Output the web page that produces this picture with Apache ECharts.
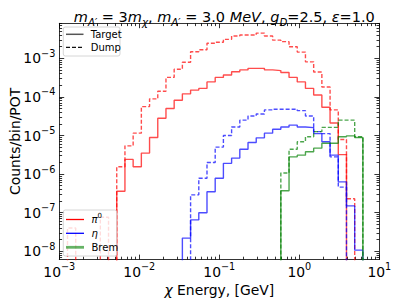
<!DOCTYPE html>
<html><head><meta charset="utf-8">
<script src="https://cdn.jsdelivr.net/npm/echarts@6/dist/echarts.min.js"></script>
<style>html,body{margin:0;padding:0;background:#fff}#c{width:396px;height:303px}</style>
</head><body><div id="c"></div>
<script>
// 39 log-spaced bins between 1e-3 and 10 GeV (edges)
const binEdges = [0.001, 0.0012664, 0.0016037, 0.0020309, 0.0025719, 0.0032570, 0.0041246, 0.0052233, 0.0066147, 0.0083768,
  0.010608, 0.013434, 0.017013, 0.021544, 0.027283, 0.034551, 0.043755, 0.055410, 0.070170, 0.088862,
  0.11253, 0.14251, 0.18047, 0.22855, 0.28943, 0.36653, 0.46416, 0.58780, 0.74437, 0.94267,
  1.1938, 1.5118, 1.9145, 2.4245, 3.0703, 3.8882, 4.9239, 6.2355, 7.8965, 10];

// Counts/bin/POT per bin (0 = empty bin)
const piTarget = [0,0,0,0,0,0,0, 3.6e-7, 2.4e-6, 1.55e-6, 3.5e-6, 8.9e-6, 2.8e-5, 5.0e-5, 8.2e-5, 1.2e-4, 1.5e-4, 1.66e-4, 2.45e-4, 3.2e-4,
  3.7e-4, 4.5e-4, 5.0e-4, 5.5e-4, 5.5e-4, 5.0e-4, 4.8e-4, 4.3e-4, 3.2e-4, 2.45e-4, 1.66e-4, 1.12e-4, 5.4e-5, 2.1e-5, 3.2e-6, 0,0,0,0];
const piDump = [0, 4e-8, 0,0,0, 7.6e-8, 0, 1.55e-6, 5.4e-6, 1.15e-5, 5.6e-5, 8.9e-5, 1.4e-4, 3.2e-4, 5.2e-4, 7.9e-4, 1.48e-3, 1.66e-3, 2.45e-3, 2.6e-3,
  3.1e-3, 3.8e-3, 4.0e-3, 4.0e-3, 4.5e-3, 3.8e-3, 2.95e-3, 2.7e-3, 2.0e-3, 1.45e-3, 8.1e-4, 4.4e-4, 1.8e-4, 4.6e-5, 7.9e-6, 2.3e-7, 0,0,0];
const etaTarget = [0,0,0,0,0,0,0,0,0,0,0,0,0,0,0, 2.2e-8, 6.5e-8, 1.0e-7, 3.5e-7, 7.8e-7,
  1.9e-6, 2.6e-6, 4.4e-6, 6.6e-6, 8.7e-6, 1.15e-5, 1.45e-5, 1.66e-5, 1.86e-5, 1.66e-5, 1.6e-5, 1.12e-5, 6.9e-6, 3.1e-6, 6.3e-7, 1.5e-7, 1.07e-8, 0, 0];
const etaDump = [0,0,0,0,0,0,0,0,0,0,0,0,0,0,0,0, 2.9e-7, 7.8e-7, 2.0e-6, 5.0e-6,
  1.0e-5, 1.66e-5, 2.5e-5, 3.2e-5, 3.6e-5, 4.6e-5, 4.8e-5, 4.8e-5, 4.8e-5, 4.4e-5, 3.2e-5, 1.26e-5, 1.12e-5, 2.8e-6, 4.6e-7, 0,0,0,0];
const bremTarget = [0,0,0,0,0,0,0,0,0,0,0,0,0,0,0,0,0,0,0,0,0,0,0,0,0,0,0,
  3.7e-7, 2.8e-6, 3.1e-6, 3.8e-6, 4.7e-6, 6.3e-6, 6.3e-6, 9.3e-6, 9.8e-6, 8.9e-6, 0, 0];
const bremDump = [0,0,0,0,0,0,0,0,0,0,0,0,0,0,0,0,0,0,0,0,0,0,0,0,0,0,0,
  1.07e-6, 4.4e-6, 6.9e-6, 9.3e-6, 1.26e-5, 1.62e-5, 1.62e-5, 2.5e-5, 2.5e-5, 9.3e-6, 0, 0];

// axis tick labels (powers of ten)
const xTickExponents = [-3, -2, -1, 0, 1];
const yTickExponents = [-8, -7, -6, -5, -4, -3];

const X_MIN = 1e-3, X_MAX = 10, Y_MIN = 6.13e-9, Y_MAX = 8.07e-3;
const FLOOR = 1e-14;
const FONT = 'DejaVu Sans';

const yLogMin = Math.log10(Y_MIN), yLogMax = Math.log10(Y_MAX);
function minorTicks(n0, n1, lo, hi) {
  const out = [];
  for (let n = n0; n <= n1; n++) for (let m = 2; m <= 9; m++) {
    const v = n + Math.log10(m);
    if (v > lo && v < hi) out.push(v);
  }
  return out;
}
const xMinor = minorTicks(-3, 0, -3, 1);
const yMinor = minorTicks(-9, -3, yLogMin, yLogMax);

function powLabel(v) {
  const n = Math.round(v);
  return '{b|10}{s|' + (n < 0 ? '\u2212' + (-n) : String(n)) + '}';
}
const powRich = {
  b: {fontSize: 13.9, fontFamily: FONT, color: '#000', lineHeight: 20},
  s: {fontSize: 9.7, fontFamily: FONT, color: '#000', lineHeight: 8, verticalAlign: 'top'}
};
const TICK = {color: '#000', width: 0.8};
const LINE = {color: '#000', width: 0.8};

function valAxis(dim, pos, major, withLabels, extra) {
  const lo = dim === 'x' ? -3 : yLogMin, hi = dim === 'x' ? 1 : yLogMax;
  const ticks = major ? (dim === 'x' ? xTickExponents : yTickExponents) : (dim === 'x' ? xMinor : yMinor);
  return Object.assign({
    type: 'value', position: pos, min: lo, max: hi, gridIndex: 0,
    axisLine: {show: major, onZero: false, lineStyle: LINE},
    axisTick: {show: true, inside: true, length: major ? 4.9 : 2.8, customValues: ticks, lineStyle: TICK},
    axisLabel: withLabels ? {show: true, customValues: ticks, formatter: powLabel, rich: powRich,
      margin: dim === 'x' ? 2 : 4, color: '#000'} : {show: false},
    splitLine: {show: false}
  }, extra || {});
}

const RED = 'rgba(255,0,0,0.7)', BLUE = 'rgba(0,0,255,0.7)', GREEN = 'rgba(0,128,0,0.7)';
const DASH = [4, 2];
function stepPoints(vals) {
  const pts = [[binEdges[0], FLOOR]];
  vals.forEach((v, k) => pts.push([binEdges[k], v > 0 ? v : FLOOR]));
  pts.push([binEdges[vals.length], FLOOR]);
  return pts;
}
function histSeries(name, vals, color, dashed) {
  return {
    name, type: 'line', xAxisIndex: 0, yAxisIndex: 0, data: stepPoints(vals), step: 'end',
    symbol: 'none', clip: true, silent: true, animation: false,
    lineStyle: {color, width: 1.4, type: dashed ? DASH : 'solid'}
  };
}

const titleRich = {
  i: {fontSize: 14.5, fontFamily: FONT, fontStyle: 'italic', fontWeight: 'normal', color: '#000', lineHeight: 20},
  r: {fontSize: 14.5, fontFamily: FONT, fontWeight: 'normal', color: '#000', lineHeight: 20},
  sub: {fontSize: 10.2, fontFamily: FONT, fontStyle: 'italic', fontWeight: 'normal', color: '#000', lineHeight: 12, verticalAlign: 'bottom'}
};

const legendZ = 100;
const legText = (x, y, text, rich) => ({type: 'text', z: legendZ, x, y,
  style: {text, fill: '#000', font: '10px "DejaVu Sans"', fontSize: 10, fontFamily: FONT,
    align: 'left', verticalAlign: 'middle', textAlign: 'left', textVerticalAlign: 'middle', rich: rich}});
const legLine = (x1, x2, y, stroke, width, dash) => ({type: 'line', z: legendZ,
  shape: {x1, y1: y, x2, y2: y}, style: {stroke, lineWidth: width, lineDash: dash || null}});

const option = {
  animation: false,
  backgroundColor: '#fff',
  textStyle: {fontFamily: FONT},
  title: {
    text: '{i|m}{sub|A\u2032}{r| = 3}{i|m}{sub|\u03c7}{r|, }{i|m}{sub|A\u2032}{r| = 3.0 }{i|MeV}{r|, }{i|g}{sub|D}{r|=2.5, }{i|\u03b5}{r|=1.0}',
    left: 219.3, top: 2, textAlign: 'center',
    textStyle: {rich: titleRich, fontSize: 14.5, fontWeight: 'normal', fontFamily: FONT, color: '#000'}
  },
  grid: {left: 59.3, right: 16.7, top: 23.3, bottom: 43.5, containLabel: false, outerBoundsMode: 'none'},
  xAxis: [
    {type: 'log', logBase: 10, min: X_MIN, max: X_MAX, show: false, splitLine: {show: false}},
    valAxis('x', 'bottom', true, true, {
      name: '{i|\u03c7} Energy, [GeV]', nameLocation: 'middle', nameGap: 23, nameMoveOverlap: false,
      nameTextStyle: {fontSize: 13.9, fontFamily: FONT, color: '#000',
        rich: {i: {fontSize: 13.9, fontFamily: FONT, fontStyle: 'italic', color: '#000'}}}
    }),
    valAxis('x', 'bottom', false, false),
    valAxis('x', 'top', true, false),
    valAxis('x', 'top', false, false)
  ],
  yAxis: [
    {type: 'log', logBase: 10, min: Y_MIN, max: Y_MAX, show: false, splitLine: {show: false}},
    valAxis('y', 'left', true, true, {
      name: 'Counts/bin/POT', nameLocation: 'middle', nameGap: 37, nameMoveOverlap: false,
      nameTextStyle: {fontSize: 13.9, fontFamily: FONT, color: '#000'}
    }),
    valAxis('y', 'left', false, false),
    valAxis('y', 'right', true, false),
    valAxis('y', 'right', false, false)
  ],
  series: [
    histSeries('\u03c0\u2070 Target', piTarget, RED, false),
    histSeries('\u03c0\u2070 Dump', piDump, RED, true),
    histSeries('\u03b7 Target', etaTarget, BLUE, false),
    histSeries('\u03b7 Dump', etaDump, BLUE, true),
    histSeries('Brem Target', bremTarget, GREEN, false),
    histSeries('Brem Dump', bremDump, GREEN, true)
  ],
  graphic: [
    {type: 'rect', z: legendZ - 1, shape: {x: 63.3, y: 27, width: 56.7, height: 29, r: 2},
      style: {fill: 'rgba(255,255,255,0.8)', stroke: '#cccccc', lineWidth: 0.8}},
    legLine(66, 83.5, 34.3, '#555555', 1.5),
    legText(90.7, 34.3, 'Target'),
    legLine(66, 83.5, 47.3, '#111111', 1.3, [4, 2]),
    legText(90.7, 47.3, 'Dump'),
    {type: 'rect', z: legendZ - 1, shape: {x: 63.3, y: 210, width: 53.4, height: 46, r: 2},
      style: {fill: 'rgba(255,255,255,0.8)', stroke: '#cccccc', lineWidth: 0.8}},
    legLine(66, 84, 219.5, '#ff0000', 1.3),
    legText(91.5, 219.5, '{i|\u03c0}{s|0}', {
      i: {fontSize: 10, fontFamily: FONT, fontStyle: 'italic', fill: '#000', color: '#000', lineHeight: 14},
      s: {fontSize: 7, fontFamily: FONT, fill: '#000', color: '#000', lineHeight: 6, verticalAlign: 'top'}}),
    legLine(66, 84, 233.3, '#0000ff', 1.3),
    legText(91.5, 233.3, '{i|\u03b7}', {i: {fontSize: 10, fontFamily: FONT, fontStyle: 'italic', fill: '#000', color: '#000'}}),
    legLine(66, 84, 247.3, 'rgba(0,128,0,0.6)', 2.8),
    legText(91.5, 247.3, 'Brem')
  ]
};

const chart = echarts.init(document.getElementById('c'), null, {renderer: 'svg', width: 396, height: 303});
chart.setOption(option);
</script>
</body></html>
